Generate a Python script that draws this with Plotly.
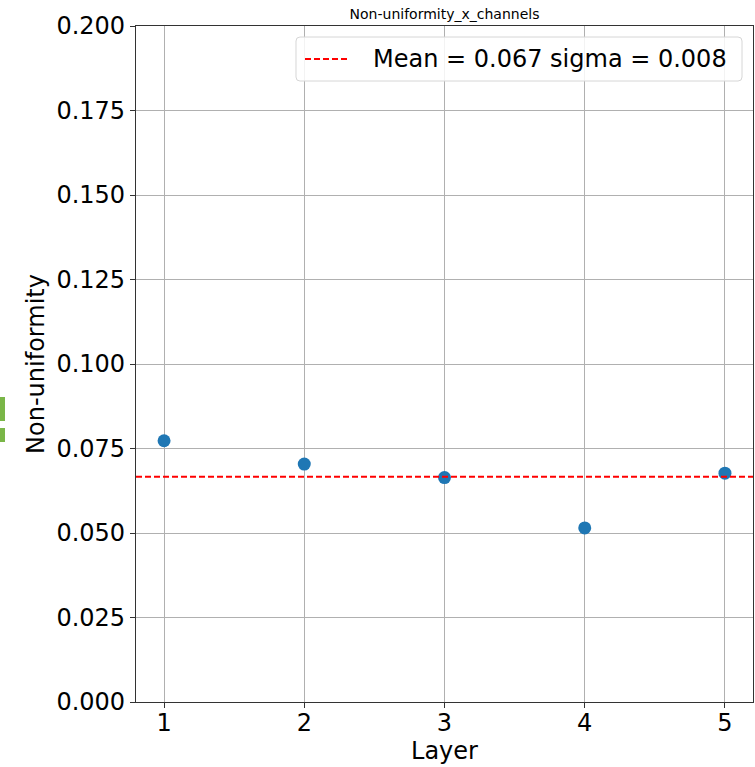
import numpy as np
import plotly.graph_objects as go

# Non-uniformity per layer (x channels)
layers = [1, 2, 3, 4, 5]
nonuniformity = [0.0773, 0.0704, 0.0664, 0.0515, 0.0677]

x_range = [0.8, 5.2]
y_range = [0.0, 0.2]
y_ticks = [0.0, 0.025, 0.05, 0.075, 0.1, 0.125, 0.15, 0.175, 0.2]
y_tick_text = ["0.000", "0.025", "0.050", "0.075", "0.100", "0.125", "0.150", "0.175", "0.200"]

mean_val = float(np.mean(nonuniformity))
sigma_val = float(np.std(nonuniformity))
legend_label = f"Mean = {mean_val:.3f} sigma = {sigma_val:.3f}"

FONT = "DejaVu Sans"

fig = go.Figure()

fig.add_trace(go.Scatter(
    x=layers, y=nonuniformity, mode="markers",
    marker=dict(color="#1f77b4", size=13, line=dict(width=0)),
    showlegend=False,
))

fig.add_trace(go.Scatter(
    x=x_range, y=[mean_val, mean_val], mode="lines",
    line=dict(color="red", width=2, dash="6px,3px"),
    name=legend_label, showlegend=False,
))

axis_common = dict(
    showgrid=True, gridcolor="#b0b0b0", gridwidth=1,
    showline=True, linecolor="#333333", linewidth=1.2, mirror=True,
    ticks="outside", ticklen=5, tickwidth=1.2, tickcolor="#333333",
    tickfont=dict(family=FONT, size=24, color="black"),
    zeroline=False,
)

# legend box (rounded corners) in plot-area paper coordinates
leg_x0, leg_x1, leg_y0, leg_y1 = 0.2593, 0.9822, 0.9186, 0.9837
leg_mid = (leg_y0 + leg_y1) / 2
rx, ry = 4 / 617, 4 / 676
legend_path = (
    f"M {leg_x0 + rx},{leg_y1} L {leg_x1 - rx},{leg_y1} Q {leg_x1},{leg_y1} {leg_x1},{leg_y1 - ry} "
    f"L {leg_x1},{leg_y0 + ry} Q {leg_x1},{leg_y0} {leg_x1 - rx},{leg_y0} "
    f"L {leg_x0 + rx},{leg_y0} Q {leg_x0},{leg_y0} {leg_x0},{leg_y0 + ry} "
    f"L {leg_x0},{leg_y1 - ry} Q {leg_x0},{leg_y1} {leg_x0 + rx},{leg_y1} Z"
)

fig.update_layout(
    width=755, height=767,
    margin=dict(l=136, r=2, t=26, b=65),
    paper_bgcolor="white", plot_bgcolor="white",
    font=dict(family=FONT, color="black"),
    showlegend=False,
    title=dict(text="Non-uniformity_x_channels", x=(136 + 617 / 2) / 755, xanchor="center",
               y=1 - 14 / 767, yanchor="middle",
               font=dict(family=FONT, size=14, color="black")),
    xaxis=dict(range=x_range, tickvals=layers, ticktext=[str(v) for v in layers],
               ticklabelstandoff=-6,
               title=dict(text="Layer", font=dict(family=FONT, size=24), standoff=2),
               **axis_common),
    yaxis=dict(range=y_range, tickvals=y_ticks, ticktext=y_tick_text,
               title=dict(text="Non-uniformity", font=dict(family=FONT, size=24), standoff=4),
               **axis_common),
    shapes=[
        dict(type="path", xref="paper", yref="paper", path=legend_path,
             fillcolor="rgba(255,255,255,0.85)",
             line=dict(color="#d6d6d6", width=1), layer="above"),
        dict(type="line", xref="paper", yref="paper", x0=0.2739, x1=0.3468,
             y0=leg_mid, y1=leg_mid, line=dict(color="red", width=2, dash="6px,3px"),
             layer="above"),
        dict(type="rect", xref="paper", yref="paper", x0=-0.2204, x1=-0.2123,
             y0=0.4157, y1=0.4512, fillcolor="#7ab648", line=dict(width=0), layer="above"),
        dict(type="rect", xref="paper", yref="paper", x0=-0.2204, x1=-0.2123,
             y0=0.3846, y1=0.4053, fillcolor="#7ab648", line=dict(width=0), layer="above"),
    ],
    annotations=[
        dict(text=legend_label, xref="paper", yref="paper", x=0.3809, y=leg_mid,
             xanchor="left", yanchor="middle", showarrow=False,
             font=dict(family=FONT, size=24, color="black")),
    ],
)

fig.write_html("out.html")
